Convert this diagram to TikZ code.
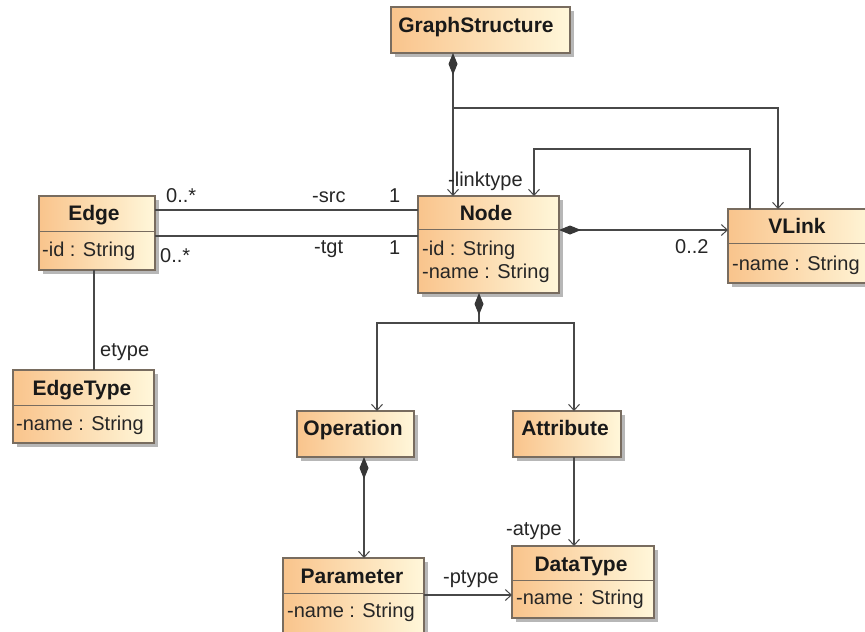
\documentclass[tikz,border=0pt]{standalone}
\usepackage{fontspec}
\setmainfont{Liberation Sans}
\usetikzlibrary{arrows.meta,shadows}
\definecolor{cL}{RGB}{249,196,140}
\definecolor{cR}{RGB}{255,247,218}
\definecolor{bord}{RGB}{120,108,95}
\definecolor{ln}{RGB}{72,72,72}
\definecolor{dia}{RGB}{55,55,55}
\begin{document}
\begin{tikzpicture}[x=1pt,y=-1pt,
  cls/.style={draw=bord, line width=1.1pt, left color=cL, right color=cR,
    anchor=north west, inner sep=0pt, outer sep=0pt,
    drop shadow={shadow xshift=4pt, shadow yshift=-4pt, fill=black!40, opacity=0.7}},
  sepl/.style={draw=bord, line width=1pt},
  nm/.style={font=\fontsize{21}{24}\selectfont\bfseries, inner sep=0pt, anchor=base, text=black!90},
  attr/.style={font=\fontsize{20}{24}\selectfont, inner sep=0pt, anchor=base west, text=black!85},
  lbl/.style={font=\fontsize{20}{24}\selectfont, inner sep=0pt, anchor=base west, text=black!85},
  plain/.style={draw=ln, line width=1.2pt},
  assoc/.style={plain, -{Straight Barb[length=6pt,width=11pt,line width=1pt]}},
  compo/.style={plain, {Diamond[length=22pt,width=9pt,fill=dia,color=dia]}-{Straight Barb[length=6pt,width=11pt,line width=1pt]}},
]
\useasboundingbox (0,0) rectangle (865,632);

% classes
\node[cls, minimum width=179pt, minimum height=46pt] (gs) at (391,7) {};
\node[nm] at (476,32) {GraphStructure};

\node[cls, minimum width=116pt, minimum height=74pt] (edge) at (39,196) {};
\draw[sepl] (edge.west |- 0,231) -- (edge.east |- 0,231);
\node[nm] at (94,220) {Edge};
\node[attr] at (42,256) {-id : String};

\node[cls, minimum width=141pt, minimum height=73pt] (etype) at (13,370) {};
\draw[sepl] (etype.west |- 0,405) -- (etype.east |- 0,405);
\node[nm] at (82,395) {EdgeType};
\node[attr] at (16,430) {-name : String};

\node[cls, minimum width=141pt, minimum height=97pt] (node) at (418,196) {};
\draw[sepl] (node.west |- 0,229) -- (node.east |- 0,229);
\node[nm] at (486,220) {Node};
\node[attr] at (422,255) {-id : String};
\node[attr] at (422,278) {-name : String};

\node[cls, minimum width=150pt, minimum height=74pt] (vlink) at (728,209) {};
\draw[sepl] (vlink.west |- 0,243) -- (vlink.east |- 0,243);
\node[nm] at (797,233) {VLink};
\node[attr] at (732,270) {-name : String};

\node[cls, minimum width=117pt, minimum height=46pt] (op) at (297,411) {};
\node[nm] at (353,435) {Operation};

\node[cls, minimum width=108pt, minimum height=46pt] (att) at (513,411) {};
\node[nm] at (565,435) {Attribute};

\node[cls, minimum width=141pt, minimum height=92pt] (param) at (283,558) {};
\draw[sepl] (param.west |- 0,593) -- (param.east |- 0,593);
\node[nm] at (352,583) {Parameter};
\node[attr] at (287,617) {-name : String};

\node[cls, minimum width=142pt, minimum height=72pt] (dtype) at (512,546) {};
\draw[sepl] (dtype.west |- 0,580) -- (dtype.east |- 0,580);
\node[nm] at (581,571) {DataType};
\node[attr] at (516,604) {-name : String};

% connectors
\coordinate (gsb) at (453,108);
\draw[compo] (gs.south -| 453,0) -- (node.north -| 453,0);
\draw[assoc] (gsb) -| (vlink.north -| 778,0);
\coordinate (lk1) at (750,149);
\coordinate (lk2) at (534,149);
\draw[assoc] (vlink.north -| lk1) -- (lk1) -- (lk2) -- (node.north -| lk2);
\node[lbl] at (448,186) {-linktype};

\draw[compo] (node.east |- 0,230) -- (vlink.west |- 0,230);
\node[lbl] at (675,253) {0..2};

\draw[plain] (edge.east |- 0,210) -- (node.west |- 0,210);
\draw[plain] (edge.east |- 0,236) -- (node.west |- 0,236);
\node[lbl] at (166,202) {0..*};
\node[lbl] at (312,202) {-src};
\node[lbl] at (389,202) {1};
\node[lbl] at (160,262) {0..*};
\node[lbl] at (314,253) {-tgt};
\node[lbl] at (389,254) {1};

\draw[plain] (edge.south -| 94,0) -- (etype.north -| 94,0);
\node[lbl] at (100,356) {etype};

\coordinate (nb) at (479,323);
\draw[compo] (node.south -| nb) -- (nb) -| (op.north -| 377,0);
\draw[assoc] (nb) -| (att.north -| 574,0);

\draw[compo] (op.south -| 364,0) -- (param.north -| 364,0);
\draw[assoc] (att.south -| 574,0) -- (dtype.north -| 574,0);
\node[lbl] at (506,535) {-atype};

\draw[assoc] (param.east |- 0,595) -- (dtype.west |- 0,595);
\node[lbl] at (443,583) {-ptype};
\end{tikzpicture}
\end{document}
